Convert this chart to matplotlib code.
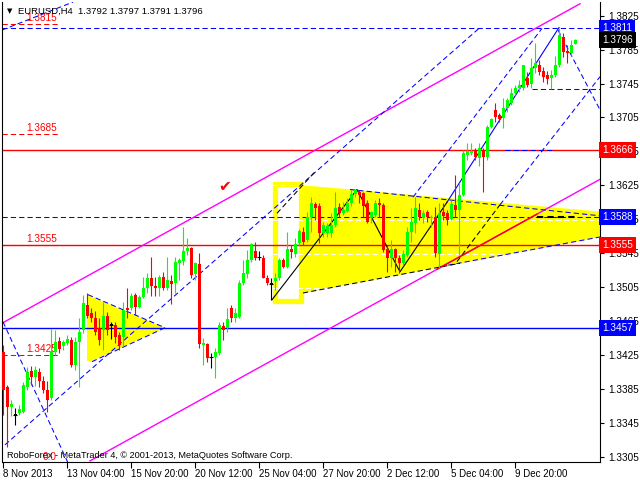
import numpy as np
import matplotlib
matplotlib.use("Agg")
import matplotlib.pyplot as plt
import matplotlib.transforms as mtransforms
from matplotlib.patches import Polygon, Rectangle

# =============================================================================
# EURUSD H4 candles
# =============================================================================
opens = [1.3428, 1.3387, 1.3364, 1.3354, 1.3357, 1.3358, 1.3387, 1.3406, 1.3399, 1.3405,
         1.3394, 1.3384, 1.3374, 1.3428, 1.3441, 1.3436, 1.3439, 1.3443, 1.3413, 1.3440,
         1.3454, 1.3484, 1.3474, 1.3468, 1.3457, 1.3454, 1.3471, 1.3460, 1.3460, 1.3448,
         1.3446, 1.3480, 1.3480, 1.3496, 1.3482, 1.3493, 1.3504, 1.3516, 1.3506, 1.3504,
         1.3517, 1.3504, 1.3512, 1.3510, 1.3533, 1.3536, 1.3548, 1.3551, 1.3520, 1.3532,
         1.3437, 1.3438, 1.3422, 1.3422, 1.3427, 1.3459, 1.3457, 1.3480, 1.3469, 1.3470,
         1.3510, 1.3520, 1.3537, 1.3548, 1.3540, 1.3539, 1.3516, 1.3509, 1.3512, 1.3516,
         1.3537, 1.3529, 1.3550, 1.3544, 1.3557, 1.3570, 1.3560, 1.3588, 1.3603, 1.3601,
         1.3569, 1.3569, 1.3569, 1.3578, 1.3599, 1.3592, 1.3595, 1.3604, 1.3615, 1.3617,
         1.3616, 1.3604, 1.3586, 1.3590, 1.3604, 1.3602, 1.3550, 1.3539, 1.3550, 1.3539,
         1.3533, 1.3543, 1.3570, 1.3581, 1.3596, 1.3586, 1.3593, 1.3586, 1.3588, 1.3544,
         1.3593, 1.3592, 1.3585, 1.3602, 1.3596, 1.3614, 1.3661, 1.3663, 1.3666, 1.3657,
         1.3666, 1.3658, 1.3694, 1.3714, 1.3708, 1.3704, 1.3716, 1.3722, 1.3734, 1.3740,
         1.3740, 1.3751, 1.3745, 1.3763, 1.3767, 1.3760, 1.3755, 1.3751, 1.3755, 1.3767,
         1.3800, 1.3783, 1.3781, 1.3792]
highs = [1.3437, 1.3389, 1.3372, 1.3362, 1.3366, 1.3393, 1.3411, 1.3412, 1.3412, 1.3410,
         1.3400, 1.3394, 1.3455, 1.3454, 1.3446, 1.3442, 1.3448, 1.3446, 1.3446, 1.3469,
         1.3496, 1.3498, 1.3480, 1.3477, 1.3468, 1.3487, 1.3476, 1.3464, 1.3464, 1.3452,
         1.3487, 1.3504, 1.3498, 1.3498, 1.3496, 1.3517, 1.3521, 1.3541, 1.3517, 1.3519,
         1.3523, 1.3541, 1.3519, 1.3541, 1.3539, 1.3576, 1.3563, 1.3552, 1.3534, 1.3545,
         1.3445, 1.3439, 1.3427, 1.3433, 1.3464, 1.3464, 1.3480, 1.3484, 1.3480, 1.3513,
         1.3537, 1.3549, 1.3557, 1.3558, 1.3548, 1.3543, 1.3519, 1.3516, 1.3521, 1.3539,
         1.3539, 1.3570, 1.3555, 1.3563, 1.3574, 1.3576, 1.3593, 1.3611, 1.3605, 1.3604,
         1.3582, 1.3581, 1.3592, 1.3617, 1.3604, 1.3605, 1.3610, 1.3620, 1.3621, 1.3619,
         1.3617, 1.3608, 1.3595, 1.3608, 1.3610, 1.3604, 1.3555, 1.3560, 1.3551, 1.3543,
         1.3549, 1.3576, 1.3598, 1.3611, 1.3604, 1.3596, 1.3596, 1.3590, 1.3599, 1.3604,
         1.3604, 1.3596, 1.3608, 1.3637, 1.3628, 1.3667, 1.3675, 1.3675, 1.3669, 1.3675,
         1.3669, 1.3696, 1.3704, 1.3722, 1.3710, 1.3728, 1.3728, 1.3740, 1.3743, 1.3749,
         1.3767, 1.3758, 1.3775, 1.3793, 1.3773, 1.3764, 1.3760, 1.3761, 1.3777, 1.3811,
         1.3805, 1.3790, 1.3796, 1.3797]
lows = [1.3354, 1.3316, 1.3353, 1.3342, 1.3354, 1.3356, 1.3384, 1.3389, 1.3388, 1.3387,
        1.3380, 1.3358, 1.3372, 1.3425, 1.3427, 1.3431, 1.3437, 1.3411, 1.3407, 1.3387,
        1.3451, 1.3468, 1.3464, 1.3448, 1.3437, 1.3431, 1.3449, 1.3444, 1.3439, 1.3431,
        1.3435, 1.3469, 1.3478, 1.3472, 1.3480, 1.3492, 1.3498, 1.3494, 1.3495, 1.3495,
        1.3502, 1.3502, 1.3485, 1.3498, 1.3513, 1.3531, 1.3543, 1.3516, 1.3513, 1.3433,
        1.3413, 1.3417, 1.3410, 1.3398, 1.3425, 1.3443, 1.3452, 1.3464, 1.3464, 1.3469,
        1.3507, 1.3516, 1.3535, 1.3537, 1.3537, 1.3516, 1.3507, 1.3490, 1.3502, 1.3513,
        1.3528, 1.3528, 1.3539, 1.3541, 1.3555, 1.3555, 1.3558, 1.3570, 1.3584, 1.3557,
        1.3564, 1.3564, 1.3564, 1.3576, 1.3588, 1.3590, 1.3593, 1.3600, 1.3611, 1.3604,
        1.3588, 1.3581, 1.3581, 1.3588, 1.3588, 1.3546, 1.3523, 1.3529, 1.3523, 1.3522,
        1.3531, 1.3541, 1.3558, 1.3569, 1.3584, 1.3581, 1.3582, 1.3576, 1.3541, 1.3528,
        1.3584, 1.3578, 1.3584, 1.3588, 1.3543, 1.3612, 1.3655, 1.3661, 1.3655, 1.3648,
        1.3617, 1.3655, 1.3693, 1.3700, 1.3700, 1.3692, 1.3711, 1.3720, 1.3731, 1.3735,
        1.3737, 1.3741, 1.3740, 1.3757, 1.3755, 1.3747, 1.3745, 1.3738, 1.3753, 1.3764,
        1.3776, 1.3769, 1.3779, 1.3791]
closes = [1.3384, 1.3364, 1.3367, 1.3354, 1.3361, 1.3390, 1.3405, 1.3399, 1.3407, 1.3394,
          1.3384, 1.3372, 1.3430, 1.3440, 1.3432, 1.3440, 1.3444, 1.3413, 1.3440, 1.3452,
          1.3486, 1.3471, 1.3468, 1.3452, 1.3443, 1.3471, 1.3454, 1.3460, 1.3446, 1.3437,
          1.3478, 1.3478, 1.3494, 1.3482, 1.3493, 1.3504, 1.3516, 1.3506, 1.3504, 1.3517,
          1.3504, 1.3513, 1.3508, 1.3535, 1.3537, 1.3548, 1.3551, 1.3519, 1.3533, 1.3438,
          1.3439, 1.3421, 1.3422, 1.3428, 1.3460, 1.3454, 1.3467, 1.3469, 1.3474, 1.3510,
          1.3522, 1.3537, 1.3556, 1.3539, 1.3540, 1.3516, 1.3510, 1.3509, 1.3516, 1.3537,
          1.3529, 1.3550, 1.3546, 1.3556, 1.3571, 1.3558, 1.3588, 1.3604, 1.3598, 1.3569,
          1.3578, 1.3577, 1.3578, 1.3598, 1.3592, 1.3596, 1.3604, 1.3615, 1.3619, 1.3614,
          1.3601, 1.3582, 1.3594, 1.3604, 1.3602, 1.3549, 1.3539, 1.3550, 1.3539, 1.3533,
          1.3544, 1.3570, 1.3582, 1.3598, 1.3588, 1.3592, 1.3588, 1.3588, 1.3545, 1.3592,
          1.3589, 1.3584, 1.3603, 1.3596, 1.3614, 1.3663, 1.3665, 1.3665, 1.3658, 1.3669,
          1.3658, 1.3694, 1.3703, 1.3705, 1.3703, 1.3716, 1.3726, 1.3734, 1.3740, 1.3743,
          1.3767, 1.3743, 1.3763, 1.3769, 1.3759, 1.3753, 1.3750, 1.3755, 1.3767, 1.3802,
          1.3782, 1.3781, 1.3790, 1.3796]

date_ticks = [0, 16, 32, 48, 64, 80, 96, 112, 128]
date_labels = ['8 Nov 2013', '13 Nov 04:00', '15 Nov 20:00', '20 Nov 12:00',
               '25 Nov 04:00', '27 Nov 20:00', '2 Dec 12:00', '5 Dec 04:00', '9 Dec 20:00']
price_ticks = [1.3305, 1.3345, 1.3385, 1.3425, 1.3465, 1.3505, 1.3545, 1.3585,
               1.3625, 1.3665, 1.3705, 1.3745, 1.3785, 1.3825]

# horizontal levels (price, colour, style)
h_levels = [(1.3811, '#0000ff', 'dash'), (1.3666, '#ff0000', 'solid'),
            (1.3588, '#0000ff', 'dash'), (1.3555, '#ff0000', 'solid'),
            (1.3457, '#0000ff', 'solid')]
# short red levels on the left with labels
fibo_levels = [1.3815, 1.3685, 1.3555, 1.3425]
# price boxes on the right
price_boxes = [(1.3811, '#0000ff'), (1.3796, '#000000'), (1.3666, '#ff0000'),
               (1.3588, '#0000ff'), (1.3555, '#ff0000'), (1.3457, '#0000ff')]

# channel lines (bar, price) pairs
magenta_up = ([0, 144.25], [1.3463, 1.3839])
magenta_dn = ([21.75, 149.25], [1.3300, 1.3632])
red_seg = ([108.5, 133.5], [1.3526, 1.3591])
blue_dash_lines = [
    ([0.5, 119.25], [1.3319, 1.3811]),
    ([0, 17], [1.3464, 1.3290]),
    ([-0.25, 17.5], [1.3808, 1.3841]),
    ([21.25, 40.5], [1.3496, 1.3457]),
    ([22.25, 40.5], [1.3417, 1.3457]),
    ([86.75, 149.25], [1.3620, 1.3589]),
    ([109.25, 149.25], [1.3529, 1.3564]),
    ([102.5, 134.75], [1.3611, 1.3810]),
    ([138.75, 149.25], [1.3808, 1.3714]),
    ([124.25, 149.25], [1.3602, 1.3753]),
    ([132.25, 149.25], [1.3739, 1.3739]),
    ([125.5, 138], [1.3666, 1.3666]),
]
black_dash_lines = [
    ([75, 114.25], [1.3498, 1.3533]),
    ([113.5, 124.25], [1.3535, 1.3602]),
    ([68.5, 78], [1.3592, 1.3641]),
]
zigzag = ([67.25, 88.5, 99.25, 111], [1.3490, 1.3620, 1.3523, 1.3605])
blue_solid = ([111, 139], [1.3605, 1.3811])

big_tri = ([75, 149.25, 149.25, 75], [1.3625, 1.3594, 1.3564, 1.3498])
small_tri = ([21, 40.5, 21.75, 21], [1.3496, 1.3457, 1.3417, 1.3418])
rect_box = ([67.875, 74.375], [1.3489, 1.3627])
white_fib = [1.3625, 1.3584, 1.3544, 1.3504]

# =============================================================================
# plot
# =============================================================================
plt.rcParams['font.family'] = ['Liberation Sans', 'DejaVu Sans']
FS = 6.8
fig = plt.figure(figsize=(6.4, 4.8), dpi=100)
ax = fig.add_axes([2 / 640, 18 / 480, 598 / 640, 460 / 480])
ax.set_xlim(-0.25, 149.25)
ax.set_ylim(1.32987, 1.38411)

dash = dict(linestyle=(0, (5, 3)), lw=0.75)

# yellow objects
ax.add_patch(Polygon(np.column_stack(big_tri), closed=True, fc='#ffff00', ec='none', zorder=1))
ax.add_patch(Polygon(np.column_stack(small_tri), closed=True, fc='#ffff00', ec='none', zorder=1))
ax.add_patch(Rectangle((rect_box[0][0], rect_box[1][0]), rect_box[0][1] - rect_box[0][0],
                       rect_box[1][1] - rect_box[1][0], fill=False, ec='#ffff00', lw=3.8, zorder=1))
for lv in white_fib:
    ax.plot([67.25, 149.25], [lv, lv], color='white', zorder=1.5, **dash)

# horizontal levels
for lv, col, st in h_levels:
    if st == 'dash':
        ax.axhline(lv, color=col, zorder=2, **dash)
    else:
        ax.axhline(lv, color=col, lw=1.0, zorder=2)
for lv in fibo_levels:
    ax.plot([-0.25, 13.75], [lv, lv], color='#ff0000', zorder=2, **dash)
    ax.text(13.5, lv + 0.00012, '%.4f' % lv, color='#ff0000', fontsize=FS + 0.4,
            ha='right', va='bottom', zorder=2)
ax.text(13.5, 1.3299, '0.0', color='#ff0000', fontsize=FS + 0.4, ha='right', va='bottom', zorder=2)

# channels and trend lines
ax.plot(*magenta_up, color='#ff00ff', lw=1.0, zorder=2)
ax.plot(*magenta_dn, color='#ff00ff', lw=1.0, zorder=2)
ax.plot(*red_seg, color='#ff0000', lw=1.0, zorder=2.1)
for xs, ys in blue_dash_lines:
    ax.plot(xs, ys, color='#0000ff', zorder=2, **dash)
for xs, ys in black_dash_lines:
    ax.plot(xs, ys, color='#000000', zorder=2, **dash)
ax.plot(*zigzag, color='#000000', lw=0.8, zorder=2)
ax.plot(*blue_solid, color='#0000ff', lw=0.8, zorder=2)
ax.plot([133.5, 143], [1.3588, 1.3588], color='#000000', lw=1.5, linestyle=(0, (3, 2)), zorder=2)

# candles
o = np.array(opens); h = np.array(highs); l = np.array(lows); c = np.array(closes)
x = np.arange(len(o))
cols = np.where(c > o, '#00ff00', np.where(c < o, '#ff0000', '#000000'))
ax.vlines(x, l, h, colors=cols, lw=0.8, zorder=4)
body = np.maximum(np.abs(c - o), 0.0001)
ax.bar(x, body, bottom=np.minimum(o, c), width=0.75, color=cols, lw=0, zorder=5)
doji = c == o
ax.hlines(o[doji], x[doji] - 0.5, x[doji] + 0.5, colors='k', lw=0.8, zorder=5)

# check mark
ax.text(55.5, 1.3624, '\u2714', color='#ff0000', fontsize=11, ha='center', va='center',
        family='DejaVu Sans')

# axes styling
ax.spines['top'].set_visible(False)
for s in ['left', 'right', 'bottom']:
    ax.spines[s].set_linewidth(0.8)
ax.yaxis.tick_right()
ax.set_yticks(price_ticks)
ax.set_yticklabels(['%.4f' % t for t in price_ticks])
ax.set_xticks(date_ticks)
ax.set_xticklabels(date_labels, ha='left')
ax.tick_params(axis='y', direction='out', length=3, width=0.8, pad=3, labelsize=FS + 0.4)
ax.tick_params(axis='x', direction='out', length=4, width=0.8, pad=1, labelsize=FS + 0.2)

blend = mtransforms.blended_transform_factory(ax.transAxes, ax.transData)
for lv, col in price_boxes:
    ax.text(1.004, lv, '%.4f' % lv, transform=blend, color='white', fontsize=FS + 0.4,
            ha='left', va='center', clip_on=False, zorder=10,
            bbox=dict(boxstyle='square,pad=0.3', fc=col, ec='none'))

fig.text(10 / 640, 1 - 11 / 480, '\u25bc', fontsize=5, va='center', ha='center',
         family='DejaVu Sans')
fig.text(18 / 640, 1 - 11 / 480, 'EURUSD,H4  1.3792 1.3797 1.3791 1.3796', fontsize=FS, va='center')
fig.text(7 / 640, 1 - 456 / 480, 'RoboForex - MetaTrader 4, \u00a9 2001-2013, MetaQuotes Software Corp.',
         fontsize=FS - 0.2, va='center')

fig.savefig('out.png', dpi=100)
